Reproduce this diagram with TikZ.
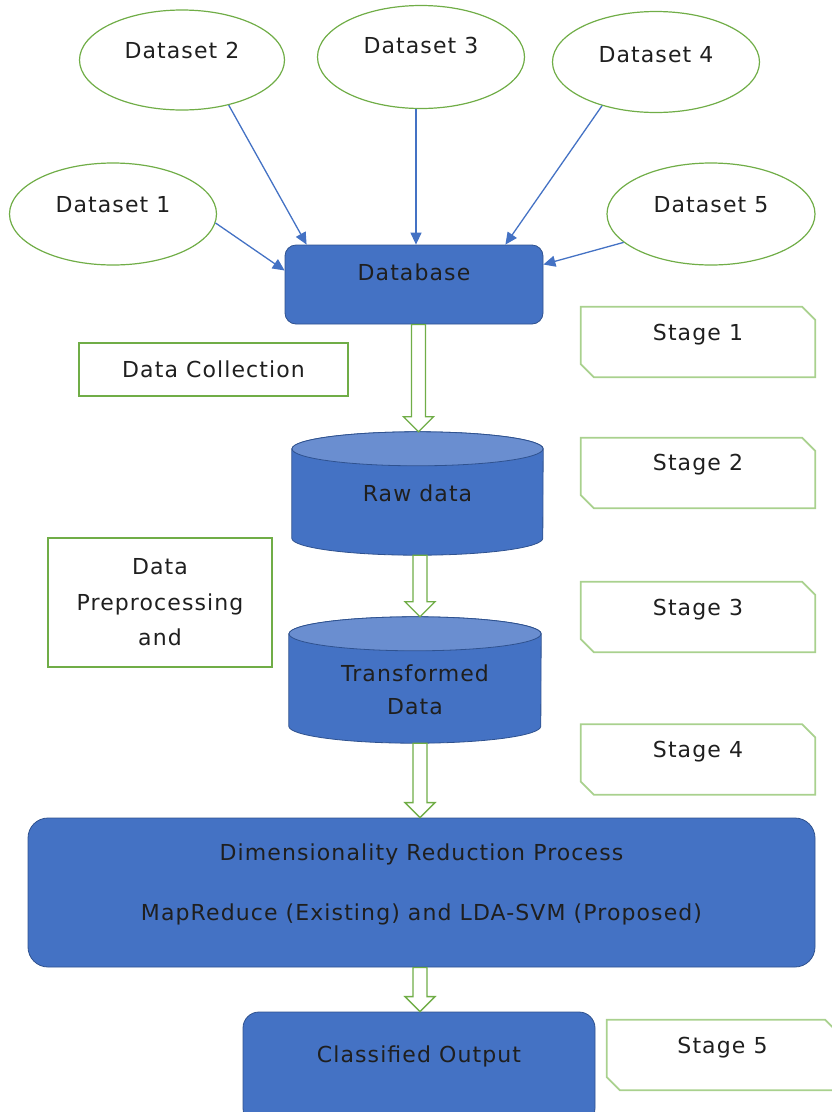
\documentclass[tikz,border=0pt]{standalone}
\usepackage{fontspec}
\setmainfont{DejaVu Sans}[LetterSpace=5]
\usetikzlibrary{arrows.meta,backgrounds,calc,shapes.geometric}
\definecolor{boxblue}{HTML}{4472C4}
\definecolor{edgeblue}{HTML}{2F528F}
\definecolor{topblue}{HTML}{6A8ED0}
\definecolor{leafgreen}{HTML}{70AD47}
\definecolor{palegreen}{HTML}{A9D18E}
\tikzset{
  every node/.style={font=\fontsize{22}{27}\selectfont, text=black!88},
  dataset/.style={ellipse, draw=leafgreen, line width=1.2pt, inner sep=0pt},
  bluebox/.style={rectangle, rounded corners=11pt, draw=edgeblue, fill=boxblue, line width=0.8pt, inner sep=0pt},
  notebox/.style={rectangle, draw=leafgreen, line width=1.2pt, inner sep=0pt, align=center},
  stagebox/.style={rectangle, inner sep=0pt, minimum width=234pt, minimum height=70pt},
  drum/.style={rectangle, inner sep=0pt},
  feed/.style={-{Triangle[length=12pt,width=11pt]}, draw=boxblue, line width=1.3pt},
  hollow/.style={draw=leafgreen, fill=white, line width=1.3pt}
}
% raise text without changing its box
\newcommand{\lift}[2]{\raisebox{#1}[\height][\depth]{#2}}
% stage label frame with two snipped corners
\newcommand{\snipframe}[1]{%
  \draw[palegreen, line width=1.8pt] (#1.north west) -- ([xshift=-13pt]#1.north east)
    -- ([yshift=-13pt]#1.north east) -- (#1.south east) -- ([xshift=13pt]#1.south west)
    -- ([yshift=13pt]#1.south west) -- cycle;}
% database drum behind a node
\newcommand{\drumshape}[2]{%
  \begin{scope}[on background layer]
    \filldraw[fill=boxblue, draw=edgeblue, line width=0.8pt]
      ([yshift=-17pt]#1.north west) -- ([yshift=17pt]#1.south west)
      arc[start angle=180, end angle=360, x radius=#2, y radius=17pt]
      -- ([yshift=-17pt]#1.north east)
      arc[start angle=0, end angle=180, x radius=#2, y radius=17pt] -- cycle;
    \filldraw[fill=topblue, draw=edgeblue, line width=0.8pt]
      ([yshift=-17pt]#1.north) ellipse[x radius=#2, y radius=17pt];
  \end{scope}}
% hollow block arrow from #1 down to #2, shifted by #3
\newcommand{\hollowdown}[3]{%
  \draw[hollow] let \p1=(#1.south), \p2=(#2.north) in
    (\x1+#3-7pt,\y1) -- (\x1+#3-7pt,\y2+15pt) -- (\x1+#3-15pt,\y2+15pt)
    -- (\x1+#3,\y2) -- (\x1+#3+15pt,\y2+15pt) -- (\x1+#3+7pt,\y2+15pt)
    -- (\x1+#3+7pt,\y1) -- cycle;}

\begin{document}
\begin{tikzpicture}[x=1pt, y=-1pt]
  \useasboundingbox (0,0) rectangle (832,1112);

  % sources
  \node[dataset, minimum width=207pt, minimum height=102pt] (ds1) at (113,214) {\lift{9pt}{Dataset 1}};
  \node[dataset, minimum width=205pt, minimum height=100pt] (ds2) at (182,60) {\lift{10pt}{Dataset 2}};
  \node[dataset, minimum width=207pt, minimum height=103pt] (ds3) at (421,57) {\lift{12pt}{Dataset 3}};
  \node[dataset, minimum width=207pt, minimum height=101pt] (ds4) at (656,62) {\lift{7pt}{Dataset 4}};
  \node[dataset, minimum width=208pt, minimum height=102pt] (ds5) at (711,214) {\lift{9pt}{Dataset 5}};

  \node[bluebox, minimum width=258pt, minimum height=79pt] (dbase) at (414,284.5) {\lift{12pt}{Database}};

  \draw[feed] (ds1.-5) -- ([yshift=14pt]dbase.west);
  \draw[feed] (ds2.-44) -- ([xshift=22pt]dbase.north west);
  \draw[feed] ([xshift=-5pt]ds3.south) -- ([xshift=2pt]dbase.north);
  \draw[feed] (ds4.219) -- ([xshift=-38pt]dbase.north east);
  \draw[feed] (ds5.198) -- ([yshift=20pt]dbase.east);

  % notes on the left
  \node[notebox, minimum width=269pt, minimum height=53pt] (collect) at (213.5,369.5) {Data Collection};
  \node[notebox, minimum width=224pt, minimum height=129pt, font=\fontsize{22}{35.5}\selectfont] (prep) at (160,602.5) {Data\\Preprocessing\\and};

  % stores
  \node[drum, minimum width=251pt, minimum height=123pt] (raw) at (417.5,493.5) {Raw data};
  \drumshape{raw}{125.5pt}
  \node[drum, minimum width=252pt, minimum height=126pt] (trans) at (415,680)
    {\lift{-11.5pt}{\fontsize{22}{33}\selectfont\begin{tabular}{@{}c@{}}Transformed\\Data\end{tabular}}};
  \drumshape{trans}{126pt}

  \node[bluebox, rounded corners=20pt, minimum width=787pt, minimum height=149pt] (dim) at (421.5,892.5)
    {\lift{14pt}{\fontsize{22}{60}\selectfont\begin{tabular}{@{}c@{}}Dimensionality Reduction Process\\MapReduce (Existing) and LDA-SVM (Proposed)\end{tabular}}};
  \node[bluebox, rounded corners=16pt, minimum width=352pt, minimum height=112pt] (result) at (419,1068) {\lift{12pt}{Classified Output}};

  \hollowdown{dbase}{raw}{4.5pt}
  \hollowdown{raw}{trans}{2.5pt}
  \hollowdown{trans}{dim}{5pt}
  \hollowdown{dim}{result}{-1.5pt}

  % stage labels
  \node[stagebox] (st1) at (698,342) {\lift{7pt}{Stage 1}};
  \node[stagebox] (st2) at (698,473) {\lift{8pt}{Stage 2}};
  \node[stagebox] (st3) at (698,617) {\lift{7pt}{Stage 3}};
  \node[stagebox] (st4) at (698,759.5) {\lift{8pt}{Stage 4}};
  \node[stagebox, minimum width=231pt] (st5) at (722.5,1055) {\lift{7pt}{Stage 5}};
  \foreach \s in {st1,st2,st3,st4,st5} {\snipframe{\s}}
\end{tikzpicture}
\end{document}
